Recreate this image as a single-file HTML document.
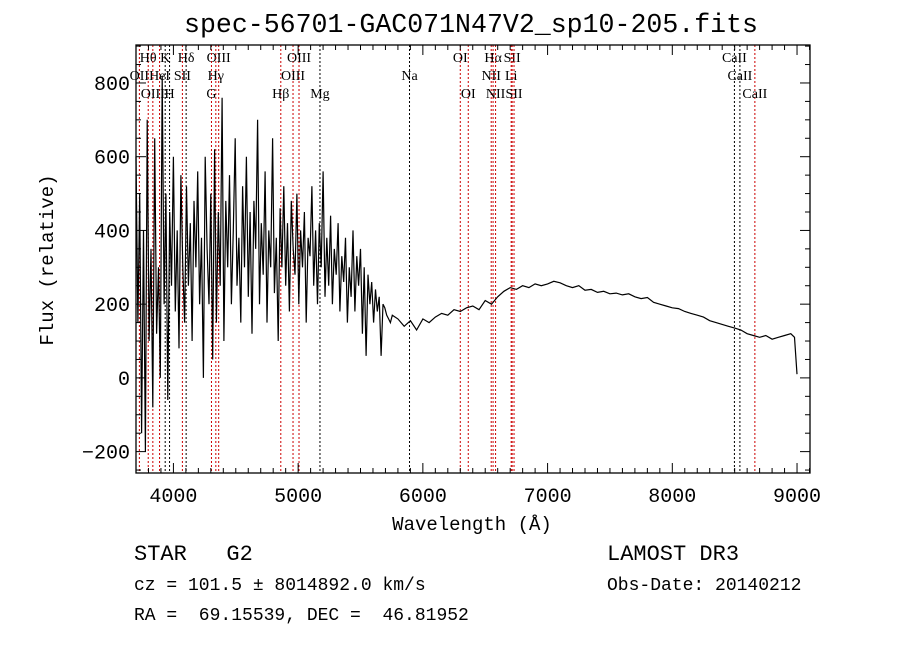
<!DOCTYPE html>
<html><head><meta charset="utf-8"><style>
html,body{margin:0;padding:0;background:#fff}
svg{display:block}
.m{font-family:"Liberation Mono","DejaVu Sans Mono",monospace;white-space:pre}
.s{font-family:"Liberation Serif",serif;font-size:14px}
</style></head><body>
<svg id="chart" width="900" height="649" viewBox="0 0 900 649">
<text class="m" x="471" y="32" font-size="27" textLength="574" lengthAdjust="spacingAndGlyphs" text-anchor="middle">spec-56701-GAC071N47V2_sp10-205.fits</text>
<g id="lines"></g>
<g id="ticks"></g>
<path id="spec" fill="none" stroke="#000" stroke-width="1.2"/>
<rect x="136" y="45" width="674" height="428" fill="none" stroke="#000" stroke-width="1.3"/>
<text class="m" x="472" y="530" font-size="19" text-anchor="middle">Wavelength (Å)</text>
<text class="m" x="0" y="0" font-size="19" text-anchor="middle" transform="translate(53,260) rotate(-90)">Flux (relative)</text>
<text class="m" x="134" y="560" font-size="22" xml:space="preserve">STAR   G2</text>
<text class="m" x="134" y="590" font-size="18">cz = 101.5 ± 8014892.0 km/s</text>
<text class="m" x="134" y="620" font-size="18" xml:space="preserve">RA =  69.15539, DEC =  46.81952</text>
<text class="m" x="607" y="560" font-size="22">LAMOST DR3</text>
<text class="m" x="607" y="590" font-size="18">Obs-Date: 20140212</text>
</svg>
<script>
const noisyStart = 3700, noisyStep = 15;
const noisyFlux = [600,150,500,-150,400,-200,700,100,350,-80,650,120,300,0,820,200,500,-60,
450,250,600,180,400,80,550,300,150,520,250,420,100,480,300,560,200,380,0,600,
350,200,500,50,620,150,450,250,760,100,480,300,550,200,400,650,250,380,150,520,
300,600,220,450,120,480,350,700,200,420,280,560,150,400,300,650,230,380,100,460,
300,520,250,420,180,480,350,280,500,200,400,300,450,150,380,330,520,250,400,200,
420,300,560,220,380,250,440,200,350,280,420,180,330,260,380,150,300,220,400,180,
330,250,350,120,300,60,280,200,260,150,240,180,220,60,200,190,170,160,150,170];
const smoothWave = [5800,5850,5900,5950,6000,6050,6100,6150,6200,6250,6300,6350,6400,6450,6500,6550,6600,6650,6700,6750,6800,6850,6900,6950,7000,7050,7100,7150,7200,7250,7300,7350,7400,7450,7500,7550,7600,7650,7700,7750,7800,7850,7900,7950,8000,8050,8100,8150,8200,8250,8300,8350,8400,8450,8500,8550,8600,8650,8700,8750,8800,8850,8900,8950,8980,9000];
const smoothFlux = [160,140,155,130,160,150,165,175,170,185,180,190,195,185,210,200,220,235,245,240,250,245,255,250,255,262,258,250,245,250,238,240,232,235,228,230,225,228,220,215,218,205,200,195,190,188,180,175,170,165,155,150,145,140,135,130,120,115,110,115,105,110,115,120,110,10];
const xTicks = [4000,5000,6000,7000,8000,9000];
const yTicks = [-200,0,200,400,600,800];
const lineWaves = [3798,3727,3835,3934,3889,3969,4102,4072,4363,4340,4305,4861,4959,5007,5175,5893,6300,6364,6548,6563,6583,6708,6716,6731,8498,8542,8662];
const lineLabels = ["Hθ","OII","OIII","K","HeI","H","Hδ","SII","OIII","Hγ","G","Hβ","OIII","OIII","Mg","Na","OI","OI","NII","Hα","NII","Li","SII","SII","CaII","CaII","CaII"];
const lineRows = [0,1,2,0,1,2,0,1,0,1,2,2,1,0,2,1,0,2,1,0,2,1,0,2,0,1,2];
const lineRed = [1,1,1,0,1,0,0,1,1,1,1,1,1,1,0,0,1,1,1,1,1,1,1,1,0,0,1];

const X0=136,X1=810,Y0=45,Y1=473,W0=3700,W1=9104,F0=-258,F1=903;
const xs=w=>X0+(w-W0)/(W1-W0)*(X1-X0);
const ys=f=>Y1-(f-F0)/(F1-F0)*(Y1-Y0);
const NS="http://www.w3.org/2000/svg";
function mk(tag,attrs,parent){const e=document.createElementNS(NS,tag);for(const k in attrs)e.setAttribute(k,attrs[k]);parent.appendChild(e);return e;}
const tg=document.getElementById('ticks');
for(let w=3700;w<=9100;w+=100){const x=xs(w);const big=w%1000===0;
 const t1=mk('line',{x1:x,x2:x,y1:Y1,y2:Y1-(big?10:5),stroke:'#000'},tg);
 
 
 const t2=mk('line',{x1:x,x2:x,y1:Y0,y2:Y0+(big?10:5),stroke:'#000'},tg);
 
 }
xTicks.forEach(w=>{const t=mk('text',{x:xs(w),y:Y1+29,'font-size':20,'text-anchor':'middle',class:'m'},tg);t.textContent=w;
 
 });
for(let f=-250;f<=900;f+=50){const y=ys(f);const big=f%200===0;
 const t1=mk('line',{x1:X0,x2:X0+(big?10:5),y1:y,y2:y,stroke:'#000'},tg);
 
 
 const t2=mk('line',{x1:X1,x2:X1-(big?10:5),y1:y,y2:y,stroke:'#000'},tg);
 
 }
yTicks.forEach(f=>{const t=mk('text',{x:X0-6,y:ys(f)+7,'font-size':20,'text-anchor':'end',class:'m'},tg);t.textContent=(f<0?'−':'')+Math.abs(f);
 
 });
const lg=document.getElementById('lines');
lineWaves.forEach((w,i)=>{const x=xs(w);
 const l=mk('line',{x1:x,x2:x,y1:Y0,y2:Y1,stroke:lineRed[i]?'#c00':'#000','stroke-width':1,'stroke-dasharray':'2,2'},lg);
 
 
 const t=mk('text',{x:x,y:62+lineRows[i]*18,'text-anchor':'middle',class:'s'},lg);t.textContent=lineLabels[i];
 
 });
let d='';
noisyFlux.forEach((f,i)=>{const w=noisyStart+i*noisyStep;d+=(i?'L':'M')+xs(w).toFixed(1)+','+ys(Math.max(F0,Math.min(F1,f))).toFixed(1);});
smoothWave.forEach((w,i)=>{d+='L'+xs(w).toFixed(1)+','+ys(smoothFlux[i]).toFixed(1);});
document.getElementById('spec').setAttribute('d',d);
</script>
</body></html>
